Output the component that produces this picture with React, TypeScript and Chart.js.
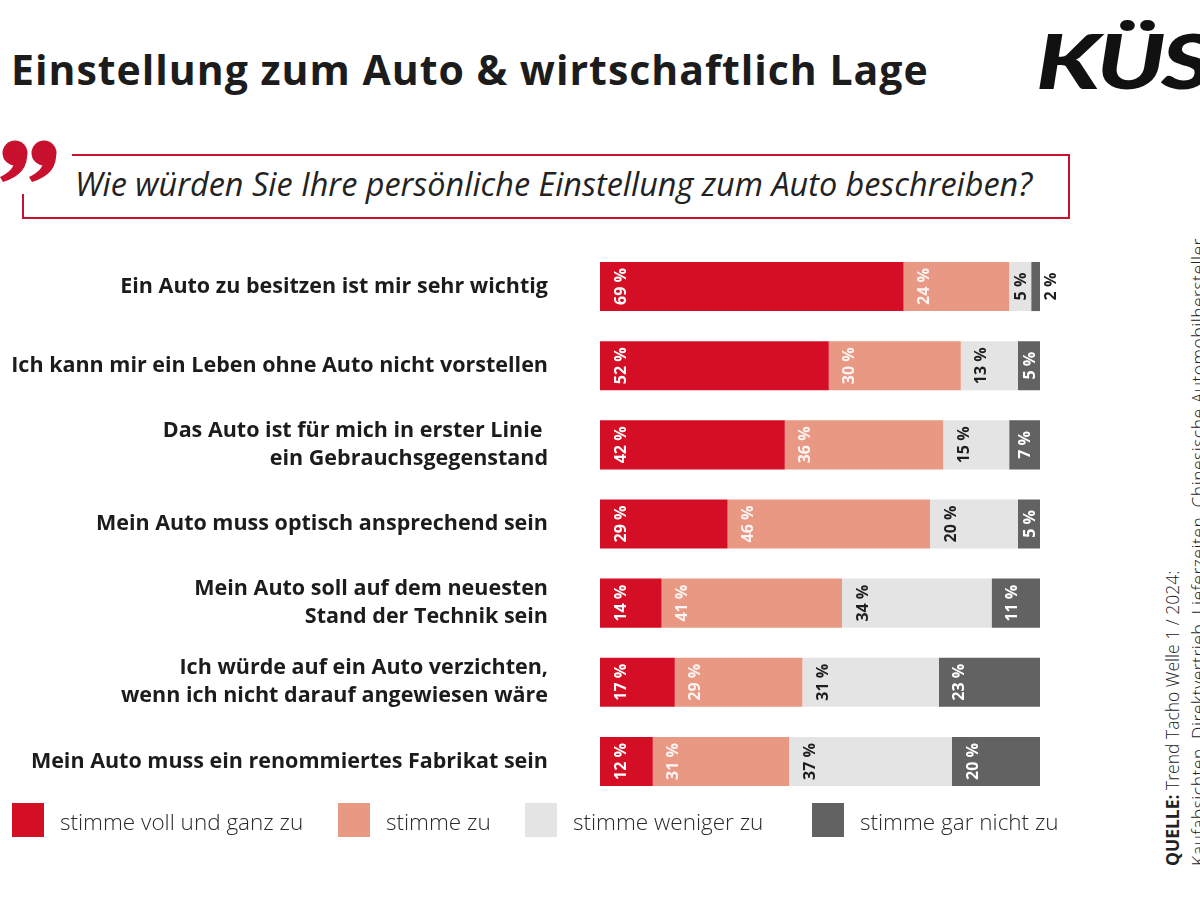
import React, { useEffect, useRef } from "react";
import { Chart, registerables } from "chart.js";

Chart.register(...registerables);

const categories: (string | string[])[] = [
  "Ein Auto zu besitzen ist mir sehr wichtig",
  "Ich kann mir ein Leben ohne Auto nicht vorstellen",
  ["Das Auto ist für mich in erster Linie ", "ein Gebrauchsgegenstand"],
  "Mein Auto muss optisch ansprechend sein",
  ["Mein Auto soll auf dem neuesten", "Stand der Technik sein"],
  ["Ich würde auf ein Auto verzichten,", "wenn ich nicht darauf angewiesen wäre"],
  "Mein Auto muss ein renommiertes Fabrikat sein",
];

const seriesNames = [
  "stimme voll und ganz zu",
  "stimme zu",
  "stimme weniger zu",
  "stimme gar nicht zu",
];

const voll = [69, 52, 42, 29, 14, 17, 12];
const zu = [24, 30, 36, 46, 41, 29, 31];
const weniger = [5, 13, 15, 20, 34, 31, 37];
const garNicht = [2, 5, 7, 5, 11, 23, 20];

const colors = ["#d40f25", "#e99884", "#e4e4e4", "#626262"];
const labelColors = ["#ffffff", "rgba(255,255,255,0.9)", "#1e1e1e", "#ffffff"];

const FONT = "'Open Sans', sans-serif";

const labelPlugin = {
  id: "segLabels",
  afterDatasetsDraw(chart: any) {
    const ctx = chart.ctx;
    chart.data.datasets.forEach((ds: any, di: number) => {
      const meta = chart.getDatasetMeta(di);
      meta.data.forEach((el: any, i: number) => {
        const v = ds.data[i];
        const start = Math.min(el.base, el.x);
        const end = Math.max(el.base, el.x);
        const w = end - start;
        const txt = v + " %";
        let cx: number;
        let color = labelColors[di];
        if (w < 14) {
          cx = end + 10;
          color = "#1e1e1e";
        } else {
          cx = start + Math.min(20, w / 2);
        }
        ctx.save();
        ctx.translate(cx, el.y);
        ctx.rotate(-Math.PI / 2);
        ctx.font = "bold 16px " + FONT;
        ctx.fillStyle = color;
        ctx.textAlign = "center";
        ctx.textBaseline = "middle";
        ctx.fillText(txt, 0, 1);
        ctx.restore();
      });
    });
  },
};

function BarChart() {
  const ref = useRef<HTMLCanvasElement | null>(null);
  useEffect(() => {
    if (!ref.current) return;
    const values = [voll, zu, weniger, garNicht];
    const chart = new Chart(ref.current, {
      type: "bar",
      data: {
        labels: categories,
        datasets: values.map((d, i) => ({
          label: seriesNames[i],
          data: d,
          backgroundColor: colors[i],
          borderWidth: 0,
          barPercentage: 0.62,
          categoryPercentage: 1,
        })),
      },
      options: {
        indexAxis: "y",
        responsive: false,
        animation: false,
        layout: { padding: { top: 0, bottom: 0, left: 0, right: 60 } },
        plugins: {
          legend: { display: false },
          tooltip: { enabled: false },
        },
        scales: {
          x: {
            stacked: true,
            min: 0,
            max: 100,
            display: false,
          },
          y: {
            stacked: true,
            grid: {
              display: true,
              drawOnChartArea: false,
              drawTicks: true,
              tickLength: 52,
              color: "rgba(0,0,0,0)",
            },
            border: { display: false },
            afterFit: (scale: any) => {
              scale.width = 600;
            },
            ticks: {
              padding: 0,
              color: "#1c1c1c",
              font: { family: FONT, size: 21.5, weight: "bold", lineHeight: 1.3 },
            },
          },
        },
      },
      plugins: [labelPlugin],
    } as any);
    return () => chart.destroy();
  }, []);
  return (
    <canvas
      ref={ref}
      width={1100}
      height={582}
      style={{ position: "absolute", left: 0, top: 233, width: 1100, height: 582 }}
    />
  );
}

const red = "#c8112e";

export default function App() {
  const legendX = [12, 338, 525, 812];
  return (
    <div
      style={{
        position: "absolute",
        left: 0,
        top: 0,
        width: 1200,
        height: 900,
        overflow: "hidden",
        background: "#fff",
        fontFamily: FONT,
        color: "#1c1c1c",
      }}
    >
      <div
        style={{
          position: "absolute",
          left: 11,
          top: 49,
          fontSize: 41,
          lineHeight: "41px",
          fontWeight: 700,
          letterSpacing: 1,
          whiteSpace: "nowrap",
        }}
      >
        Einstellung zum Auto &amp; wirtschaftlich Lage
      </div>
      <div
        style={{
          position: "absolute",
          left: 1036,
          top: 22,
          fontFamily: "Lato, sans-serif",
          fontSize: 76,
          lineHeight: "76px",
          fontWeight: 900,
          fontStyle: "italic",
          letterSpacing: -3,
          color: "#111",
          whiteSpace: "nowrap",
          transform: "scaleX(1.3)",
          transformOrigin: "0 0",
        }}
      >
        KÜS
      </div>
      <svg style={{ position: "absolute", left: 0, top: 130 }} width={70} height={60}>
        {[15, 44].map((cx) => (
          <g key={cx} fill={red}>
            <circle cx={cx} cy={23} r={12.5} />
            <path
              d={`M ${cx + 12} 22 Q ${cx + 14} 44 ${cx - 12} 52 L ${cx - 15} 47 Q ${cx} 40 ${cx - 1} 30 Z`}
            />
          </g>
        ))}
      </svg>
      <div style={{ position: "absolute", left: 72, top: 154, width: 998, height: 2, background: red }} />
      <div style={{ position: "absolute", left: 1068, top: 154, width: 2, height: 65, background: red }} />
      <div style={{ position: "absolute", left: 22, top: 217, width: 1048, height: 2, background: red }} />
      <div style={{ position: "absolute", left: 22, top: 194, width: 2, height: 25, background: red }} />
      <div
        style={{
          position: "absolute",
          left: 75,
          top: 167,
          fontSize: 32.4,
          lineHeight: "32px",
          fontStyle: "italic",
          fontWeight: 400,
          whiteSpace: "nowrap",
          color: "#222",
        }}
      >
        Wie würden Sie Ihre persönliche Einstellung zum Auto beschreiben?
      </div>
      <BarChart />
      {seriesNames.map((n, i) => (
        <React.Fragment key={n}>
          <div
            style={{
              position: "absolute",
              left: legendX[i],
              top: 803,
              width: 32,
              height: 34,
              background: colors[i],
            }}
          />
          <div
            style={{
              position: "absolute",
              left: legendX[i] + 48,
              top: 808,
              fontSize: 22.5,
              lineHeight: "27px",
              fontWeight: 300,
              whiteSpace: "nowrap",
              color: "#2a2a2a",
            }}
          >
            {n}
          </div>
        </React.Fragment>
      ))}
      <div
        style={{
          position: "absolute",
          left: 1159,
          top: 866,
          transform: "rotate(-90deg)",
          transformOrigin: "0 0",
          fontSize: 17.5,
          lineHeight: "26px",
          whiteSpace: "nowrap",
          color: "#222",
          fontWeight: 300,
        }}
      >
        <div>
          <b style={{ fontWeight: 700 }}>QUELLE:</b> Trend Tacho Welle 1 / 2024:
        </div>
        <div style={{ letterSpacing: 0.5 }}>
          Kaufabsichten, Direktvertrieb, Lieferzeiten, Chinesische Automobilhersteller
        </div>
      </div>
    </div>
  );
}
